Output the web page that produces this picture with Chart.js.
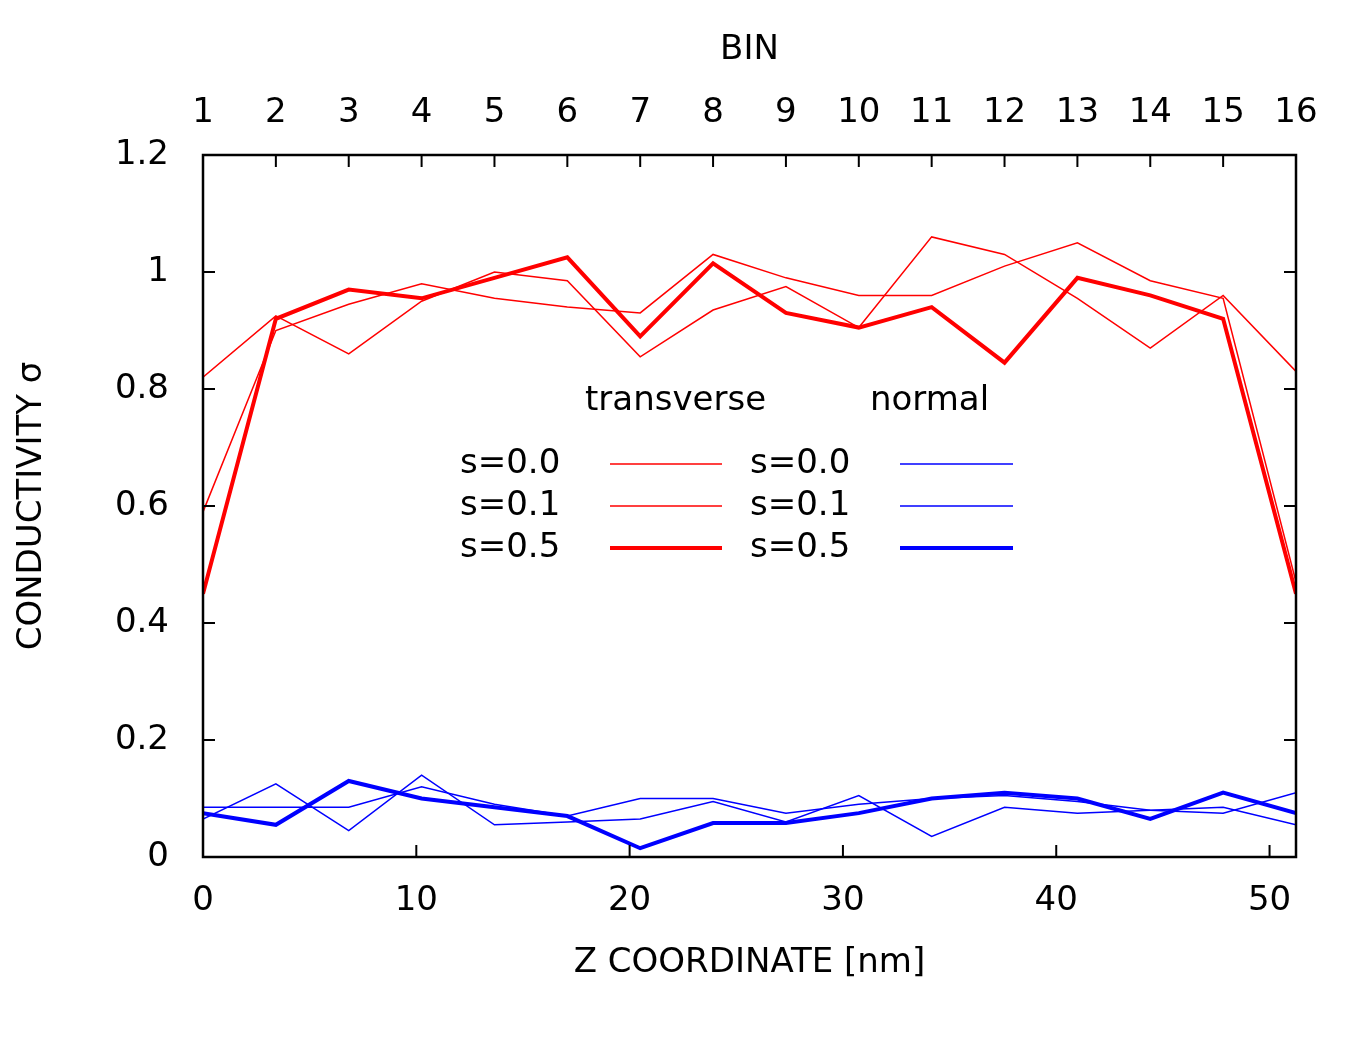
<!DOCTYPE html>
<html><head><meta charset="utf-8">
<script src="https://cdn.jsdelivr.net/npm/chart.js@4"></script>
<style>html,body{margin:0;padding:0;background:#fff}#w{width:1350px;height:1056px}</style>
</head><body><div id="w"><canvas id="c"></canvas></div>
<script>
const binCount = 16;
const zMax = 51.24;
const bins = Array.from({length: binCount}, (_, i) => i + 1);
const zValues = bins.map(b => (b - 1) * zMax / (binCount - 1));
const transS00 = [0.82, 0.925, 0.86, 0.95, 1.0, 0.985, 0.855, 0.935, 0.975, 0.905, 1.06, 1.03, 0.955, 0.87, 0.96, 0.83];
const transS01 = [0.59, 0.90, 0.945, 0.98, 0.955, 0.94, 0.93, 1.03, 0.99, 0.96, 0.96, 1.01, 1.05, 0.985, 0.955, 0.47];
const transS05 = [0.45, 0.92, 0.97, 0.955, 0.99, 1.025, 0.89, 1.015, 0.93, 0.905, 0.94, 0.845, 0.99, 0.96, 0.92, 0.45];
const normS00 = [0.065, 0.125, 0.045, 0.14, 0.055, 0.06, 0.065, 0.095, 0.06, 0.105, 0.035, 0.085, 0.075, 0.08, 0.085, 0.055];
const normS01 = [0.085, 0.085, 0.085, 0.12, 0.09, 0.07, 0.10, 0.10, 0.075, 0.09, 0.10, 0.105, 0.095, 0.08, 0.075, 0.11];
const normS05 = [0.075, 0.055, 0.13, 0.10, 0.085, 0.07, 0.015, 0.058, 0.058, 0.075, 0.10, 0.11, 0.10, 0.065, 0.11, 0.075];
const legendLabels = ['s=0.0', 's=0.1', 's=0.5'];

const RED = '#ff0000', BLUE = '#0000ff';
const FAM = 'DejaVu Sans, Verdana, sans-serif';
const FONT = {family: FAM, size: 34};
const pts = arr => arr.map((v, i) => ({x: zValues[i], y: v}));
const ds = (d, c, w) => ({data: pts(d), borderColor: c, borderWidth: w, pointRadius: 0, fill: false, tension: 0});

const frame = {
  id: 'frame',
  afterDraw(ch) {
    const {ctx, chartArea: a, scales} = ch;
    ctx.save();
    ctx.strokeStyle = '#000'; ctx.lineWidth = 2.5;
    ctx.strokeRect(a.left, a.top, a.right - a.left, a.bottom - a.top);
    ctx.lineWidth = 2;
    const L = 12;
    ctx.beginPath();
    scales.x.ticks.forEach(t => { const p = scales.x.getPixelForValue(t.value); ctx.moveTo(p, a.bottom); ctx.lineTo(p, a.bottom - L); });
    scales.x2.ticks.forEach(t => { const p = scales.x2.getPixelForValue(t.value); ctx.moveTo(p, a.top); ctx.lineTo(p, a.top + L); });
    scales.y.ticks.forEach(t => { const p = scales.y.getPixelForValue(t.value); ctx.moveTo(a.left, p); ctx.lineTo(a.left + L, p); ctx.moveTo(a.right, p); ctx.lineTo(a.right - L, p); });
    ctx.stroke();
    ctx.font = '34px ' + FAM;
    ctx.fillStyle = '#000'; ctx.textBaseline = 'middle';
    ctx.fillText('transverse', 585, 401);
    ctx.fillText('normal', 870, 401);
    const rows = [464, 506, 548], widths = [1.5, 1.5, 4];
    legendLabels.forEach((lab, i) => {
      ctx.fillStyle = '#000';
      ctx.fillText(lab, 460, rows[i]);
      ctx.fillText(lab, 750, rows[i]);
      ctx.lineWidth = widths[i];
      ctx.strokeStyle = RED; ctx.beginPath(); ctx.moveTo(610, rows[i]); ctx.lineTo(722, rows[i]); ctx.stroke();
      ctx.strokeStyle = BLUE; ctx.beginPath(); ctx.moveTo(900, rows[i]); ctx.lineTo(1013, rows[i]); ctx.stroke();
    });
    ctx.restore();
  }
};

new Chart(document.getElementById('c'), {
  type: 'line',
  data: {datasets: [
    ds(transS00, RED, 1.5), ds(transS01, RED, 1.5), ds(transS05, RED, 4),
    ds(normS00, BLUE, 1.5), ds(normS01, BLUE, 1.5), ds(normS05, BLUE, 4)
  ]},
  options: {
    responsive: true, maintainAspectRatio: false, animation: false,
    layout: {padding: {right: 54, left: 0, top: 0, bottom: 0}},
    plugins: {legend: {display: false}, tooltip: {enabled: false}},
    scales: {
      x: {type: 'linear', position: 'bottom', min: 0, max: zMax,
        afterFit(s) { s.height = 199; },
        afterBuildTicks(s) { s.ticks = [0, 10, 20, 30, 40, 50].map(v => ({value: v})); },
        grid: {display: false}, border: {display: false},
        ticks: {color: '#000', font: FONT, padding: 16, maxRotation: 0},
        title: {display: true, text: 'Z COORDINATE [nm]', color: '#000', font: FONT, padding: {top: 0, bottom: 72}}},
      x2: {type: 'linear', position: 'top', min: 1, max: 16,
        afterFit(s) { s.height = 155; },
        afterBuildTicks(s) { s.ticks = bins.map(v => ({value: v})); },
        grid: {display: false}, border: {display: false},
        ticks: {color: '#000', font: FONT, padding: 13, maxRotation: 0, autoSkip: false},
        title: {display: true, text: 'BIN', color: '#000', font: FONT, padding: {top: 30, bottom: 0}}},
      y: {min: 0, max: 1.2,
        afterFit(s) { s.width = 203; },
        afterBuildTicks(s) { s.ticks = [0, 0.2, 0.4, 0.6, 0.8, 1, 1.2].map(v => ({value: v})); },
        grid: {display: false}, border: {display: false},
        ticks: {color: '#000', font: FONT, padding: 26, callback: v => String(Math.round(v * 10) / 10)},
        title: {display: true, text: 'CONDUCTIVITY σ', color: '#000', font: FONT, padding: {top: 12, bottom: 0}}}
    }
  },
  plugins: [frame]
});
</script></body></html>
